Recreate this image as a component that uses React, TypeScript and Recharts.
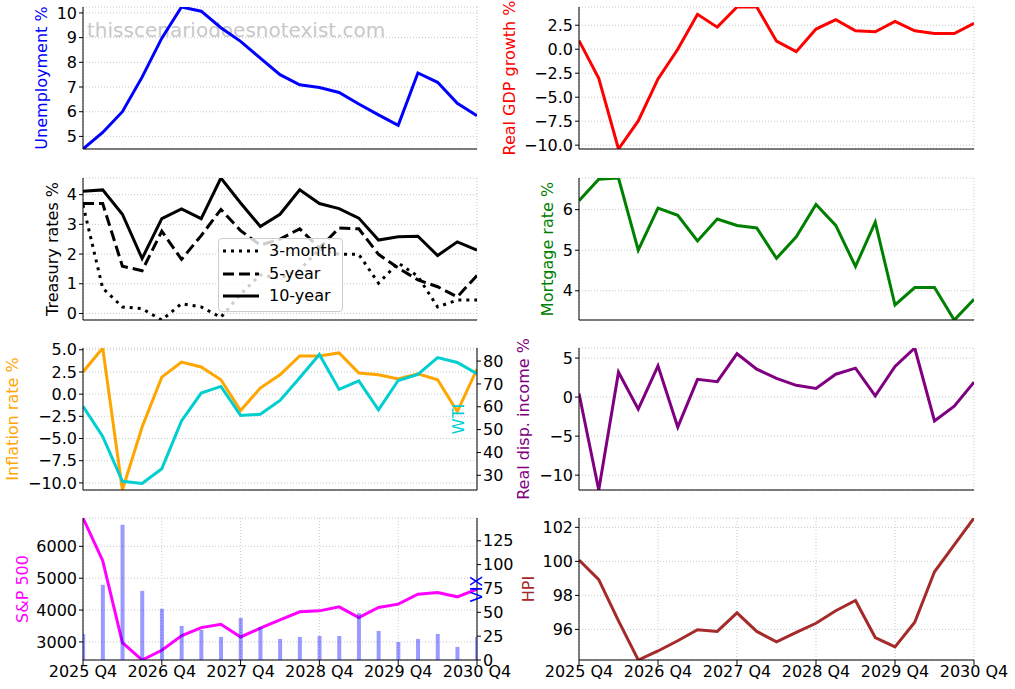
import React from "react";
import {
  ComposedChart,
  Line,
  Bar,
  XAxis,
  YAxis,
  CartesianGrid,
  Legend,
} from "recharts";

// quarterly path, 2025 Q4 .. 2030 Q4
const quarters = [
  "2025 Q4", "2026 Q1", "2026 Q2", "2026 Q3", "2026 Q4", "2027 Q1", "2027 Q2",
  "2027 Q3", "2027 Q4", "2028 Q1", "2028 Q2", "2028 Q3", "2028 Q4", "2029 Q1",
  "2029 Q2", "2029 Q3", "2029 Q4", "2030 Q1", "2030 Q2", "2030 Q3", "2030 Q4",
];
const xTicks = [0, 4, 8, 12, 16, 20];

const unemployment = [4.49, 5.16, 6.0, 7.4, 8.98, 10.24, 10.07, 9.4, 8.85, 8.17, 7.5, 7.09, 6.98, 6.78, 6.31, 5.87, 5.45, 7.57, 7.19, 6.34, 5.84];
const gdpGrowth = [0.9, -3.04, -10.4, -7.48, -3.1, 0.0, 3.64, 2.3, 4.4, 4.4, 0.84, -0.25, 2.1, 3.08, 1.92, 1.82, 2.9, 1.92, 1.64, 1.64, 2.7];
const treasury3m = [3.65, 0.85, 0.22, 0.16, -0.22, 0.33, 0.22, -0.13, 0.65, 1.3, 1.19, 1.47, 2.16, 1.99, 1.99, 1.02, 1.7, 1.25, 0.22, 0.45, 0.45];
const treasury5y = [3.7, 3.7, 1.59, 1.44, 2.77, 1.82, 2.62, 3.5, 2.79, 2.3, 2.5, 2.85, 2.2, 2.88, 2.85, 1.99, 1.53, 1.13, 0.9, 0.56, 1.28];
const treasury10y = [4.11, 4.16, 3.34, 1.85, 3.19, 3.52, 3.19, 4.56, 3.72, 2.93, 3.34, 4.16, 3.7, 3.53, 3.21, 2.47, 2.58, 2.6, 1.95, 2.41, 2.13];
const mortgage = [6.22, 6.75, 6.78, 5.0, 6.04, 5.86, 5.23, 5.77, 5.61, 5.55, 4.8, 5.33, 6.13, 5.61, 4.6, 5.69, 3.65, 4.08, 4.08, 3.28, 3.79];
const inflation = [2.5, 5.2, -10.8, -3.7, 1.92, 3.62, 3.06, 1.62, -1.85, 0.68, 2.19, 4.3, 4.3, 4.64, 2.38, 2.19, 1.7, 2.3, 1.62, -1.96, 2.83];
const wti = [60.2, 47, 27.4, 26.4, 32.9, 53.8, 66, 68.9, 56.2, 56.7, 62.8, 72.7, 82.9, 67.6, 71.3, 58.7, 71.5, 74.2, 81.5, 79.4, 74.5];
const realIncome = [0.47, -11.9, 3.19, -1.55, 4.0, -3.84, 2.28, 1.98, 5.56, 3.58, 2.41, 1.51, 1.12, 2.93, 3.71, 0.17, 3.92, 6.29, -3.06, -1.16, 1.9];
const sp500 = [6890, 5549, 2979, 2433, 2740, 3190, 3450, 3556, 3157, 3430, 3692, 3944, 3975, 4101, 3766, 4080, 4185, 4500, 4552, 4416, 4657];
const vix = [27.3, 78.8, 141.8, 72.5, 53.6, 35.7, 31.5, 24.2, 44.1, 34.3, 22.1, 24.2, 25.2, 25.2, 49, 30.5, 18.9, 22.1, 27.3, 13.7, 24.2];
const hpi = [100.08, 98.93, 96.5, 94.2, 94.73, 95.33, 95.98, 95.88, 96.97, 95.88, 95.27, 95.82, 96.36, 97.1, 97.7, 95.52, 94.97, 96.42, 99.39, 100.97, 102.55];

const treasuryNames = ["3-month", "5-year", "10-year"];
const treasuryDashes = ["3 5", "11 5", undefined];

const rows = quarters.map((q, i) => ({
  i,
  q,
  unemployment: unemployment[i],
  gdp: gdpGrowth[i],
  t3m: treasury3m[i],
  t5y: treasury5y[i],
  t10y: treasury10y[i],
  mortgage: mortgage[i],
  inflation: inflation[i],
  wti: wti[i],
  income: realIncome[i],
  sp500: sp500[i],
  vix: vix[i],
  hpi: hpi[i],
}));

const tight = (a: number[]): [number, number] => [Math.min(...a), Math.max(...a)];
const padded = (a: number[]): [number, number] => {
  const [lo, hi] = tight(a);
  const m = (hi - lo) * 0.05;
  return [lo - m, hi + m];
};

const fmt = (d: number) => (v: number) => {
  const s = Math.abs(v).toFixed(d);
  return v < 0 ? "\u2212" + s : s;
};

const COLS = {
  left: { x: 0, width: 540, axisW: 83, plotW: 394 },
  right: { x: 500, width: 515, axisW: 79, plotW: 395 },
};
const ROW_TOPS = [7, 178, 348, 518];
const PLOT_H = 142;
const TOP_PAD = 10;
const X_AXIS_H = 30;
const FONT = 16;

type SeriesDef = { key: string; color: string; dash?: string; width?: number; name?: string };
type RightDef = {
  label: string;
  labelX: number;
  color: string;
  ticks: number[];
  domain: [number, number];
  line?: SeriesDef;
  barKey?: string;
};

interface PanelProps {
  col: "left" | "right";
  row: number;
  label: string;
  labelX: number;
  labelColor: string;
  ticks: number[];
  domain: [number, number];
  decimals: number;
  series: SeriesDef[];
  right?: RightDef;
  legend?: React.ReactNode;
}

function Panel({ col, row, label, labelX, labelColor, ticks, domain, decimals, series, right, legend }: PanelProps) {
  const c = COLS[col];
  const rightW = right ? 40 : 0;
  const marginRight = c.width - c.axisW - c.plotW - rightW;
  const showX = row === 3;
  return (
    <div style={{ position: "absolute", left: c.x, top: ROW_TOPS[row] - TOP_PAD }}>
      <ComposedChart
        width={c.width}
        height={TOP_PAD + PLOT_H + X_AXIS_H}
        data={rows}
        margin={{ top: TOP_PAD, right: marginRight, bottom: 0, left: 0 }}
      >
        <CartesianGrid yAxisId="left" stroke="#c8c8c8" strokeDasharray="1 2" />
        <XAxis
          type="number"
          dataKey="i"
          domain={[0, 20]}
          allowDataOverflow
          ticks={xTicks}
          interval={0}
          height={X_AXIS_H}
          tickFormatter={(v: number) => quarters[v]}
          tick={showX ? { fill: "#000", fontSize: FONT } : false}
          tickSize={5}
          tickMargin={1}
          stroke="#000"
        />
        <YAxis
          yAxisId="left"
          width={c.axisW}
          domain={domain}
          allowDataOverflow
          ticks={ticks}
          interval={0}
          tickFormatter={fmt(decimals)}
          tick={{ fill: "#000", fontSize: FONT }}
          tickSize={4}
          tickMargin={2}
          stroke="#000"
          label={{
            value: label,
            angle: -90,
            position: "insideLeft",
            offset: labelX - c.x,
            fill: labelColor,
            fontSize: FONT,
            style: { textAnchor: "middle" },
          }}
        />
        {right && (
          <YAxis
            yAxisId="right"
            orientation="right"
            width={rightW}
            domain={right.domain}
            allowDataOverflow
            ticks={right.ticks}
            interval={0}
            tickFormatter={fmt(0)}
            tick={{ fill: "#000", fontSize: FONT }}
            tickSize={4}
            tickMargin={2}
            stroke="#000"
            label={{
              value: right.label,
              angle: -90,
              position: "insideLeft",
              offset: right.labelX - (c.x + c.axisW + c.plotW),
              fill: right.color,
              fontSize: FONT,
              style: { textAnchor: "middle" },
            }}
          />
        )}
        {series.map((s) => (
          <Line
            key={s.key}
            yAxisId="left"
            type="linear"
            dataKey={s.key}
            name={s.name ?? s.key}
            stroke={s.color}
            strokeWidth={s.width ?? 3}
            strokeDasharray={s.dash}
            dot={false}
            activeDot={false}
            isAnimationActive={false}
          />
        ))}
        {right?.line && (
          <Line
            yAxisId="right"
            type="linear"
            dataKey={right.line.key}
            stroke={right.line.color}
            strokeWidth={3}
            dot={false}
            activeDot={false}
            isAnimationActive={false}
          />
        )}
        {right?.barKey && (
          <Bar
            yAxisId="right"
            dataKey={right.barKey}
            fill="#0000ff"
            fillOpacity={0.4}
            barSize={4}
            zIndex={500}
            isAnimationActive={false}
          />
        )}
        {legend}
      </ComposedChart>
    </div>
  );
}

function TreasuryLegend() {
  return (
    <div
      style={{
        boxSizing: "border-box",
        width: 125,
        height: 74,
        border: "1px solid #cccccc",
        borderRadius: 4,
        background: "rgba(255,255,255,0.8)",
        position: "relative",
        fontFamily: "DejaVu Sans",
      }}
    >
      {treasuryNames.map((name, k) => (
        <div
          key={name}
          style={{
            position: "absolute",
            left: 4,
            top: 12 + k * 22.5 - 9,
            height: 18,
            display: "flex",
            alignItems: "center",
            whiteSpace: "nowrap",
          }}
        >
          <svg width={36} height={6}>
            <line x1={0} y1={3} x2={36} y2={3} stroke="#000" strokeWidth={3} strokeDasharray={treasuryDashes[k]} />
          </svg>
          <span style={{ marginLeft: 10, fontSize: FONT, lineHeight: "18px", color: "#000" }}>{name}</span>
        </div>
      ))}
    </div>
  );
}

export default function App() {
  return (
    <div
      style={{
        position: "absolute",
        left: 0,
        top: 0,
        width: 1015,
        height: 689,
        background: "#fff",
        fontFamily: "DejaVu Sans",
        overflow: "hidden",
      }}
    >
      <div
        style={{
          position: "absolute",
          left: 87,
          top: 20,
          fontSize: 20,
          lineHeight: "20px",
          color: "#c8c8c8",
          whiteSpace: "nowrap",
        }}
      >
        thisscenariodoesnotexist.com
      </div>

      <Panel col="left" row={0} label="Unemployment %" labelX={41} labelColor="#0000ff"
        ticks={[5, 6, 7, 8, 9, 10]} domain={tight(unemployment)} decimals={0}
        series={[{ key: "unemployment", color: "#0000ff" }]} />
      <Panel col="right" row={0} label="Real GDP growth %" labelX={509} labelColor="#ff0000"
        ticks={[-10, -7.5, -5, -2.5, 0, 2.5]} domain={tight(gdpGrowth)} decimals={1}
        series={[{ key: "gdp", color: "#ff0000" }]} />

      <Panel col="left" row={1} label="Treasury rates %" labelX={52} labelColor="#000"
        ticks={[0, 1, 2, 3, 4]} domain={tight([...treasury3m, ...treasury5y, ...treasury10y])} decimals={0}
        series={[
          { key: "t3m", name: "3-month", color: "#000", dash: treasuryDashes[0] },
          { key: "t5y", name: "5-year", color: "#000", dash: treasuryDashes[1] },
          { key: "t10y", name: "10-year", color: "#000" },
        ]}
        legend={
          <Legend
            layout="horizontal"
            verticalAlign="middle"
            align="center"
            wrapperStyle={{ left: 218, top: 238 - (ROW_TOPS[1] - TOP_PAD), width: 125, height: 74 }}
            content={() => <TreasuryLegend />}
          />
        }
      />
      <Panel col="right" row={1} label="Mortgage rate %" labelX={547} labelColor="#008000"
        ticks={[4, 5, 6]} domain={tight(mortgage)} decimals={0}
        series={[{ key: "mortgage", color: "#008000" }]} />

      <Panel col="left" row={2} label="Inflation rate %" labelX={12} labelColor="#ffa500"
        ticks={[-10, -7.5, -5, -2.5, 0, 2.5, 5]} domain={tight(inflation)} decimals={1}
        series={[{ key: "inflation", color: "#ffa500" }]}
        right={{
          label: "WTI",
          labelX: 458,
          color: "#00ced1",
          ticks: [30, 40, 50, 60, 70, 80],
          domain: padded(wti),
          line: { key: "wti", color: "#00ced1" },
        }}
      />
      <Panel col="right" row={2} label="Real disp. income %" labelX={523} labelColor="#800080"
        ticks={[-10, -5, 0, 5]} domain={tight(realIncome)} decimals={0}
        series={[{ key: "income", color: "#800080" }]} />

      <Panel col="left" row={3} label="S&P 500" labelX={22} labelColor="#ff00ff"
        ticks={[3000, 4000, 5000, 6000]} domain={tight(sp500)} decimals={0}
        series={[{ key: "sp500", color: "#ff00ff" }]}
        right={{
          label: "VIX",
          labelX: 476,
          color: "#0000ff",
          ticks: [0, 25, 50, 75, 100, 125],
          domain: [0, Math.max(...vix) * 1.05],
          barKey: "vix",
        }}
      />
      <Panel col="right" row={3} label="HPI" labelX={528} labelColor="#a52a2a"
        ticks={[96, 98, 100, 102]} domain={tight(hpi)} decimals={0}
        series={[{ key: "hpi", color: "#a52a2a" }]} />
    </div>
  );
}
